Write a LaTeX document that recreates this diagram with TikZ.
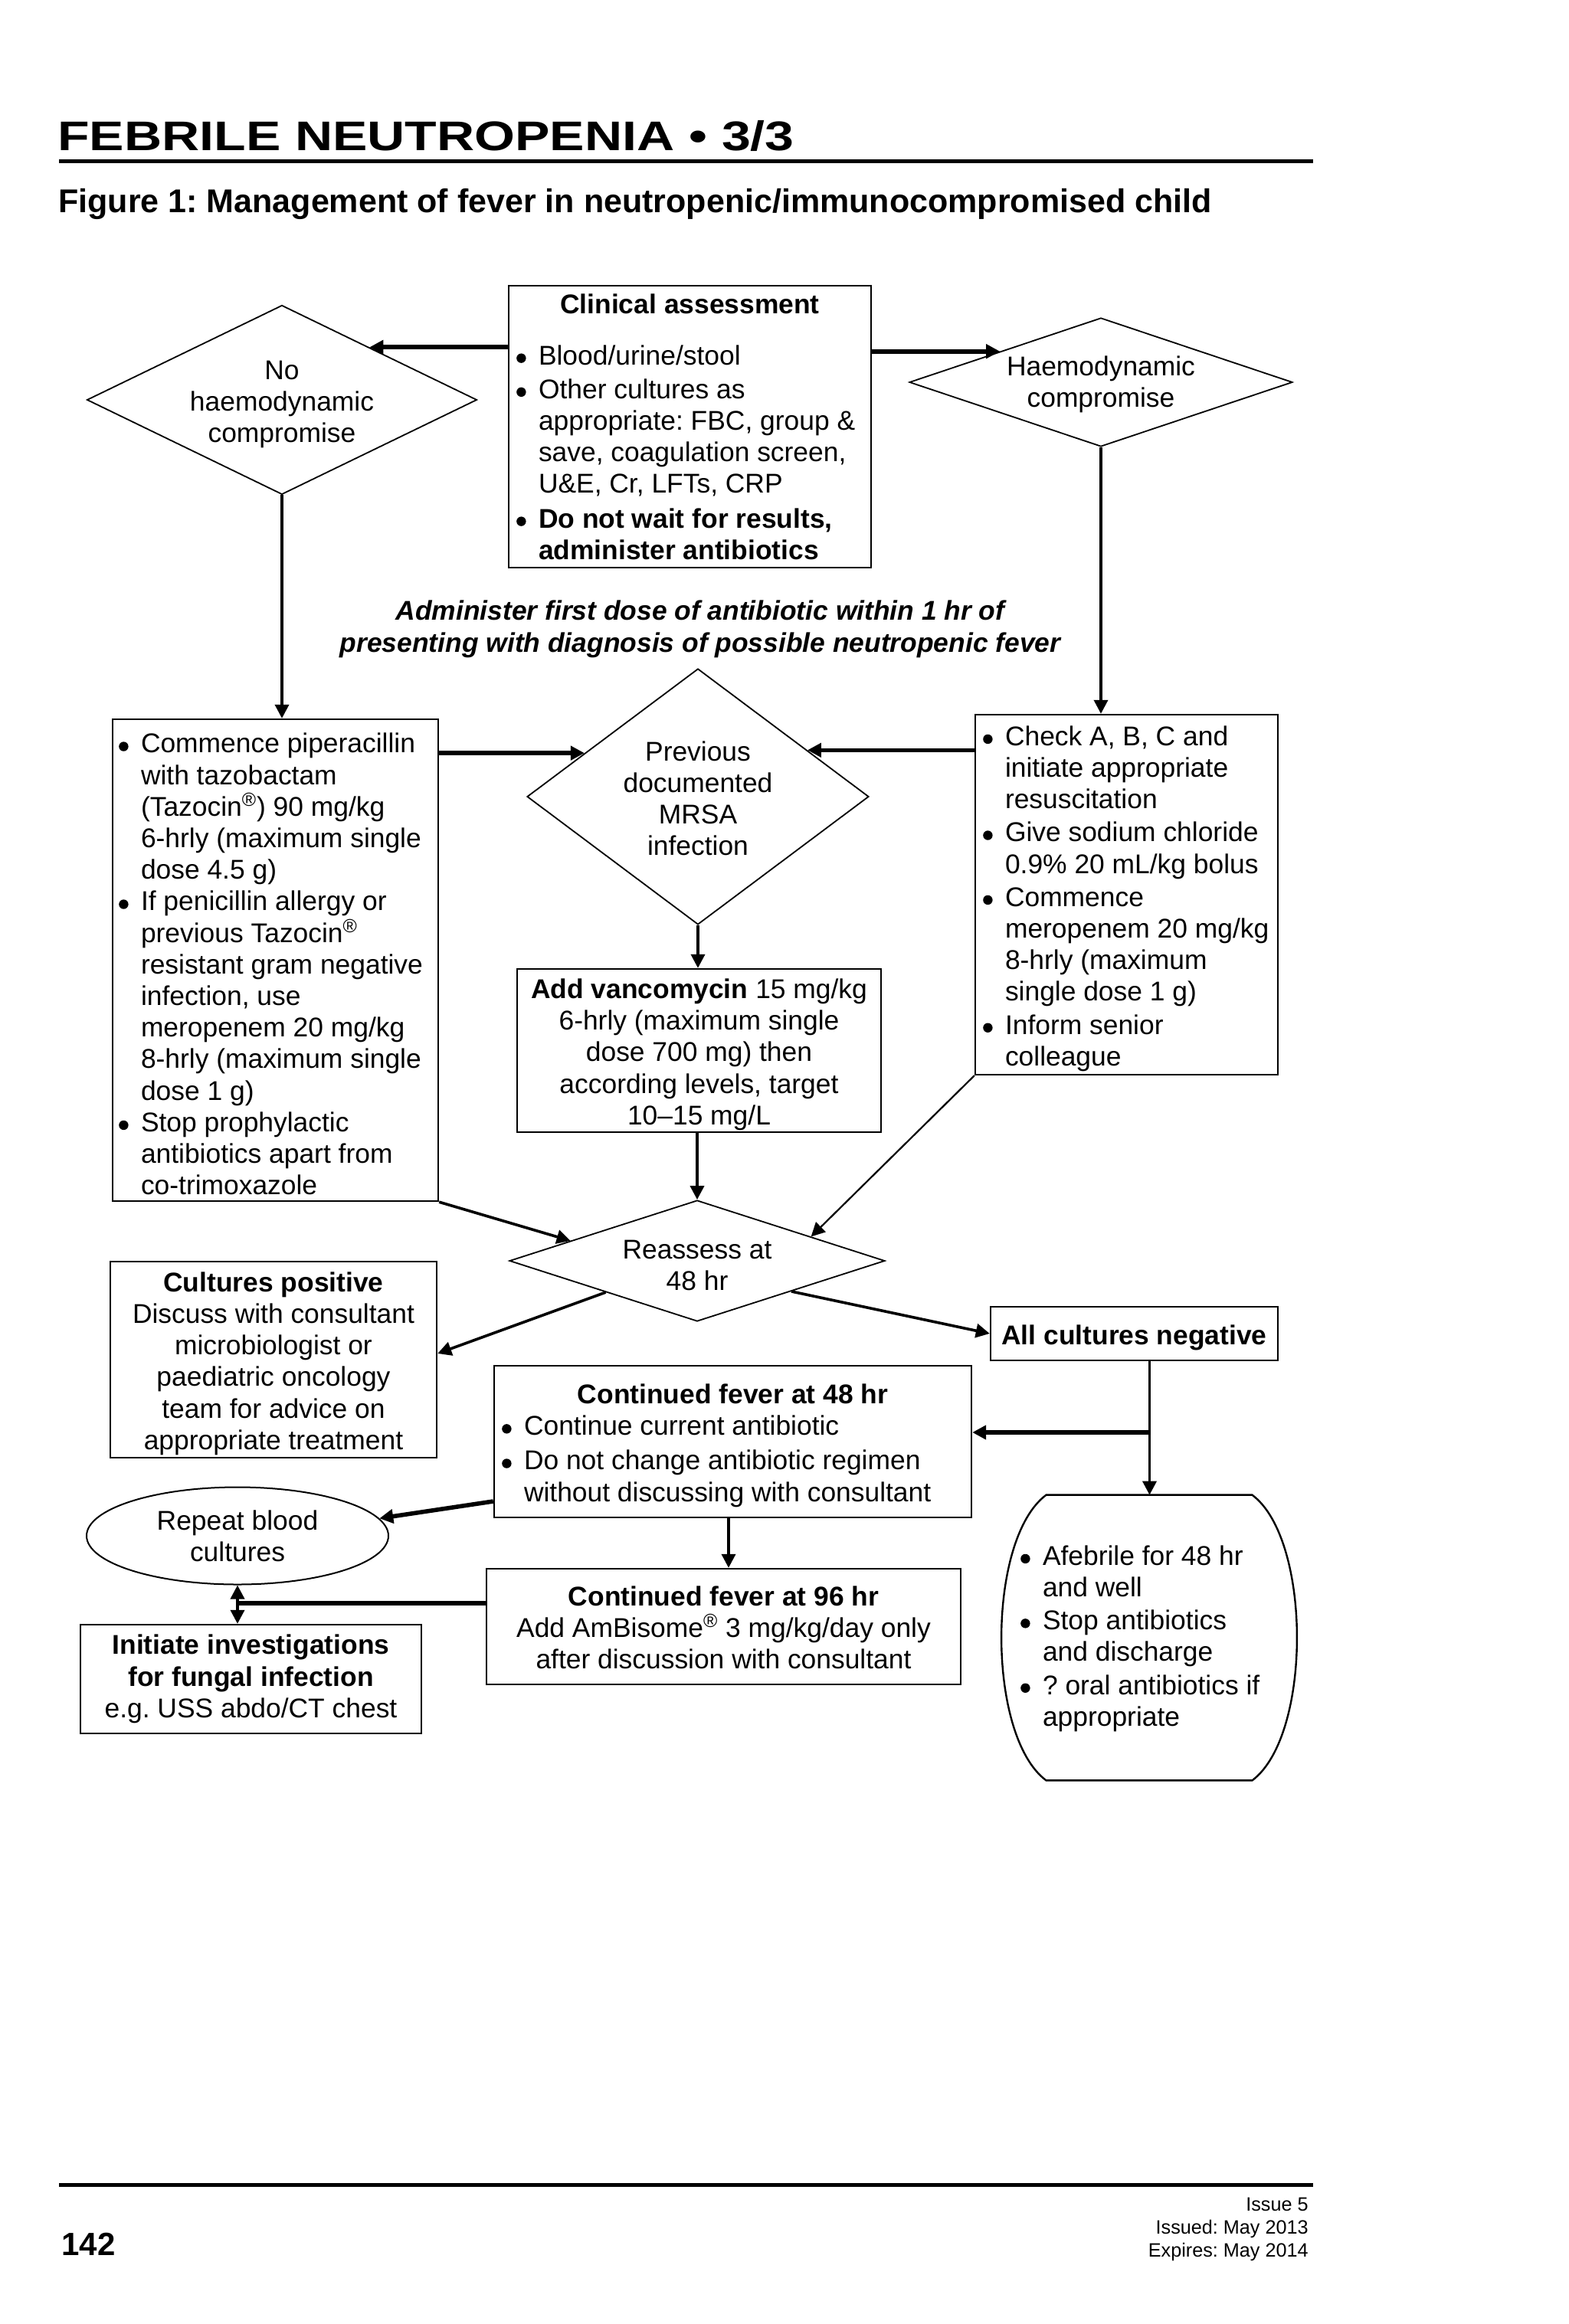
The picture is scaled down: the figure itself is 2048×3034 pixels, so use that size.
\documentclass[tikz,border=0pt]{standalone}
\usepackage{fontspec}
\setmainfont{Liberation Sans}
\newfontfamily\titlefont{Liberation Sans}[FakeStretch=1.26]
\usetikzlibrary{shapes.geometric,arrows.meta}
\newcommand\bu{\makebox[15pt][l]{\hspace{0.6pt}\tikz[baseline=0pt]{\fill (3.2pt,4.2pt) circle[radius=3.1pt];}}}
\newcommand\bi{\hspace*{15pt}}
\newcommand\reg{\textsuperscript{®}}
\newcommand\sv[1][18pt]{\rule{0pt}{#1}}
\begin{document}
\frenchspacing
\begin{tikzpicture}[x=0.5pt,y=-0.5pt,
  every node/.style={font=\fontsize{17.7}{20.6}\selectfont, inner sep=0pt},
  box/.style={draw, line width=1.2pt, rectangle, align=left},
  cbox/.style={draw, line width=1.2pt, rectangle, align=center},
  dia/.style={draw, diamond, line width=0.9pt, align=center},
  >={Triangle[length=9pt,width=9pt]},
  thk/.style={line width=2.8pt,->},
  med/.style={line width=1.8pt,->},
  thn/.style={line width=1.1pt,->}]
\useasboundingbox (0,0) rectangle (2048,3034);

% header
\node[anchor=base west, font=\titlefont\bfseries\fontsize{27}{30}\selectfont] (title) at (75,197) {FEBRILE NEUTROPENIA • 3/3};
\draw[line width=2.5pt] (77,211) -- (1714,211);
\node[anchor=base west, font=\bfseries\fontsize{21.5}{24}\selectfont] (sub) at (76,278) {Figure 1: Management of fever in neutropenic/immunocompromised child};

% top row
\node[box, minimum width=236.5pt, minimum height=184pt] (clin) at (900.5,557)
 {\makebox[227.5pt][c]{\bfseries Clinical assessment}\\[12.9pt]
  \bu Blood/urine/stool\\[1.5pt]
  \bu Other cultures as\\
  \bi appropriate: FBC, group \&\\
  \bi save, coagulation screen,\\
  \bi U\&E, Cr, LFTs, CRP\\[2pt]
  \bu\textbf{Do not wait for results,}\\
  \bi\textbf{administer antibiotics}};
\node[dia, minimum width=254.5pt, minimum height=123.5pt, aspect=2.06] (ndia) at (368,522) {\sv No\\haemodynamic\\compromise};
\node[dia, minimum width=250pt, minimum height=84pt, aspect=2.98] (hdia) at (1437,499) {\sv[16pt]Haemodynamic\\compromise};

\node[font=\bfseries\itshape\fontsize{17.7}{21}\selectfont, align=center] (note) at (914,821)
 {Administer first dose of antibiotic within 1 hr of\\presenting with diagnosis of possible neutropenic fever};

% middle row
\node[box, minimum width=212.5pt, minimum height=314.5pt] (lbox) at (359.5,1253.5)
 {\sv\makebox[205.5pt][l]{\bu Commence piperacillin}\\
  \bi with tazobactam\\
  \bi (Tazocin\reg) 90 mg/kg\\
  \bi 6-hrly (maximum single\\
  \bi dose 4.5 g)\\
  \bu If penicillin allergy or\\
  \bi previous Tazocin\reg\\
  \bi resistant gram negative\\
  \bi infection, use\\
  \bi meropenem 20 mg/kg\\
  \bi 8-hrly (maximum single\\
  \bi dose 1 g)\\
  \bu Stop prophylactic\\
  \bi antibiotics apart from\\
  \bi co-trimoxazole};
\node[box, minimum width=197.5pt, minimum height=235pt] (rbox) at (1470.5,1168)
 {\sv\makebox[188.5pt][l]{\bu Check A, B, C and}\\
  \bi initiate appropriate\\
  \bi resuscitation\\[1pt]
  \bu Give sodium chloride\\
  \bi 0.9\% 20 mL/kg bolus\\[1pt]
  \bu Commence\\
  \bi meropenem 20 mg/kg\\
  \bi 8-hrly (maximum\\
  \bi single dose 1 g)\\[1pt]
  \bu Inform senior\\
  \bi colleague};
\node[dia, minimum width=223pt, minimum height=167pt, aspect=1.335] (mrsa) at (911,1040) {\sv[15pt]Previous\\documented\\MRSA\\infection};
\node[cbox, minimum width=237.5pt, minimum height=106.5pt] (vanc) at (912.5,1371.5)
 {\sv\textbf{Add vancomycin} 15 mg/kg\\6-hrly (maximum single\\dose 700 mg) then\\according levels, target\\10--15 mg/L};

% lower part
\node[dia, minimum width=245pt, minimum height=79pt, aspect=3.1] (reas) at (910,1646) {\sv Reassess at\\48 hr};
\node[cbox, minimum width=213pt, minimum height=128pt] (cpos) at (357,1775)
 {\sv\textbf{Cultures positive}\\Discuss with consultant\\microbiologist or\\paediatric oncology\\team for advice on\\appropriate treatment};
\node[cbox, minimum width=187.5pt, minimum height=35pt] (allneg) at (1480.5,1741) {\sv\textbf{All cultures negative}};
\node[box, minimum width=311.5pt, minimum height=99pt] (cf48) at (956.5,1882)
 {\sv\makebox[302.5pt][c]{\bfseries Continued fever at 48 hr}\\
  \bu Continue current antibiotic\\[2pt]
  \bu Do not change antibiotic regimen\\
  \bi without discussing with consultant};
\node[draw, ellipse, line width=1pt, align=center, minimum width=197pt, minimum height=63.5pt] (rbc) at (310,2005) {Repeat blood\\cultures};
\node[cbox, minimum width=309.5pt, minimum height=75.5pt] (cf96) at (944.5,2123.5)
 {\sv[14pt]\textbf{Continued fever at 96 hr}\\Add AmBisome\reg{} 3 mg/kg/day only\\after discussion with consultant};
\node[cbox, minimum width=222.5pt, minimum height=71pt] (fung) at (327.5,2192)
 {\textbf{Initiate investigations}\\\textbf{for fungal infection}\\e.g. USS abdo/CT chest};
\node[align=left, minimum width=192pt, minimum height=186pt] (afeb) at (1500,2138)
 {\sv[14pt]\makebox[169pt][l]{\bu Afebrile for 48 hr}\\
  \bi and well\\[1pt]
  \bu Stop antibiotics\\
  \bi and discharge\\[1pt]
  \bu ? oral antibiotics if\\
  \bi appropriate};
\draw[line width=1.2pt] ([xshift=29pt]afeb.north west) -- ([xshift=-29pt]afeb.north east)
  .. controls ([xshift=10pt,yshift=-29pt]afeb.north east) and ([xshift=10pt,yshift=29pt]afeb.south east) .. ([xshift=-29pt]afeb.south east)
  -- ([xshift=29pt]afeb.south west)
  .. controls ([xshift=-10pt,yshift=29pt]afeb.south west) and ([xshift=-10pt,yshift=-29pt]afeb.north west) .. cycle;

% connectors
\draw[thk] (clin.west |- ndia.31) -- (ndia.31);
\draw[thk] (clin.east |- hdia.163) -- (hdia.163);
\draw[med] (ndia.south) -- (ndia.south |- lbox.north);
\draw[med] (hdia.south) -- (hdia.south |- rbox.north);
\draw[thk] (lbox.east |- mrsa.159) -- (mrsa.159);
\draw[thk] (rbox.west |- mrsa.23) -- (mrsa.23);
\draw[med] (mrsa.south) -- (mrsa.south |- vanc.north);
\draw[med] (reas.north |- vanc.south) -- (reas.north);
\draw[med] (lbox.south east) -- (reas.171);
\draw[thn] (rbox.south west) -- (reas.12);
\draw[med] (reas.199) -- ([yshift=4pt]cpos.east);
\draw[med] (reas.-18) -- (allneg.west);
\coordinate (j1) at (1500.5,1870);
\draw[med] ([xshift=10pt]allneg.south) -- ([xshift=10pt]allneg.south |- afeb.north);
\draw[thk] (j1) -- (cf48.east |- j1);
\draw[thk] ([yshift=-39pt]cf48.west) -- (rbc.7);
\draw[med] ([xshift=-2.75pt]cf48.south) -- ([xshift=-2.75pt]cf48.south |- cf96.north);
\coordinate (j2) at (310,2093);
\draw[line width=2.8pt] (cf96.west |- j2) -- (j2);
\draw[med,<->] (rbc.south) -- (rbc.south |- fung.north);

% footer
\draw[line width=2.5pt] (77,2852) -- (1714,2852);
\node[anchor=base west, font=\bfseries\fontsize{21}{24}\selectfont] (page) at (80,2944) {142};
\node[anchor=north east, align=right, font=\fontsize{12.6}{15}\selectfont] (issue) at (1708,2869) {Issue 5\\Issued: May 2013\\Expires: May 2014};
\end{tikzpicture}
\end{document}
